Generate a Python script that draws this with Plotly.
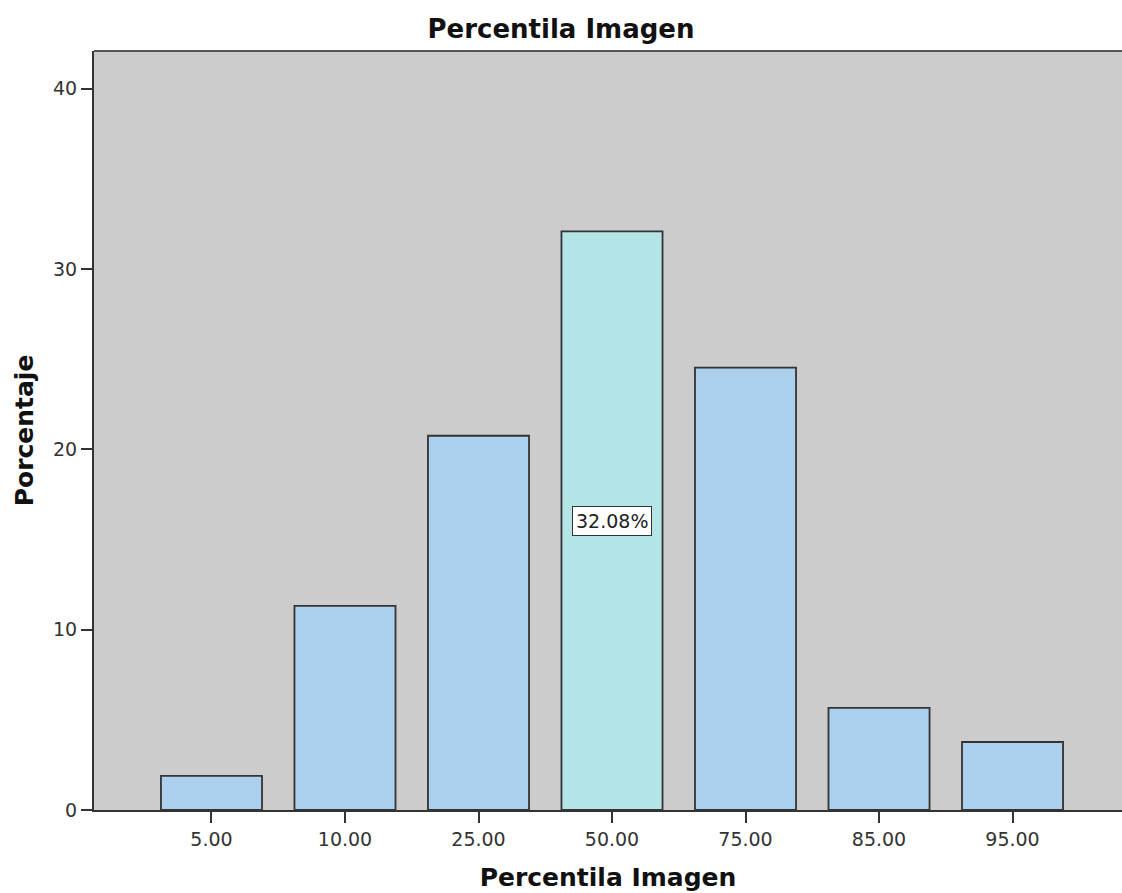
import plotly.graph_objects as go

# Percentile categories and share of cases (%)
categories = ["5.00", "10.00", "25.00", "50.00", "75.00", "85.00", "95.00"]
percentages = [1.89, 11.32, 20.75, 32.08, 24.53, 5.66, 3.77]
highlight = "50.00"
y_ticks = [0, 10, 20, 30, 40]

base_color = "#ADCFEE"
accent_color = "#B4E5E6"
colors = [accent_color if c == highlight else base_color for c in categories]

font_family = "DejaVu Sans"
tick_size = 19

fig = go.Figure()
fig.add_trace(go.Bar(
    x=list(range(len(categories))),
    y=percentages,
    marker=dict(color=colors, line=dict(color="#333333", width=1.8)),
    hovertext=categories,
    hoverinfo="text+y",
))

# Value label for the highlighted bar, centred vertically in it
hi = categories.index(highlight)
fig.add_annotation(
    x=hi, y=percentages[hi] / 2,
    text=f"{percentages[hi]:.2f}%",
    showarrow=False,
    font=dict(family=font_family, size=tick_size, color="#222222"),
    bgcolor="white", bordercolor="#333333", borderwidth=1, borderpad=3,
)

fig.update_layout(
    width=1122, height=893,
    margin=dict(l=94, r=0, t=51, b=83),
    paper_bgcolor="white",
    plot_bgcolor="#CCCCCC",
    bargap=0.243,
    showlegend=False,
    title=dict(
        text="<b>Percentila Imagen</b>",
        x=0.5, xanchor="center",
        y=1 - 29 / 893, yanchor="middle",
        font=dict(family=font_family, size=26, color="#111111"),
    ),
    font=dict(family=font_family, size=tick_size, color="#333333"),
)

fig.update_xaxes(
    range=[-0.88, 6.82],
    tickvals=list(range(len(categories))),
    ticktext=categories,
    showgrid=False,
    showline=True, linecolor="#333333", linewidth=2,
    ticks="outside", ticklen=11, tickwidth=2, tickcolor="#333333",
    tickfont=dict(family=font_family, size=tick_size, color="#333333"),
    title=dict(text="<b>Percentila Imagen</b>",
               font=dict(family=font_family, size=25, color="#111111"),
               standoff=20),
    zeroline=False,
)
fig.update_yaxes(
    range=[0, 42.08],
    tickvals=y_ticks,
    showgrid=False,
    showline=True, linecolor="#333333", linewidth=2,
    ticks="outside", ticklen=11, tickwidth=2, tickcolor="#333333",
    tickfont=dict(family=font_family, size=tick_size, color="#333333"),
    title=dict(text="<b>Porcentaje</b>",
               font=dict(family=font_family, size=25, color="#111111"),
               standoff=12),
    zeroline=False,
)

# Top frame line of the plotting area
fig.add_shape(type="line", xref="paper", yref="paper",
              x0=0, x1=1, y0=1, y1=1,
              line=dict(color="#555555", width=2))

fig.write_html("out.html")
